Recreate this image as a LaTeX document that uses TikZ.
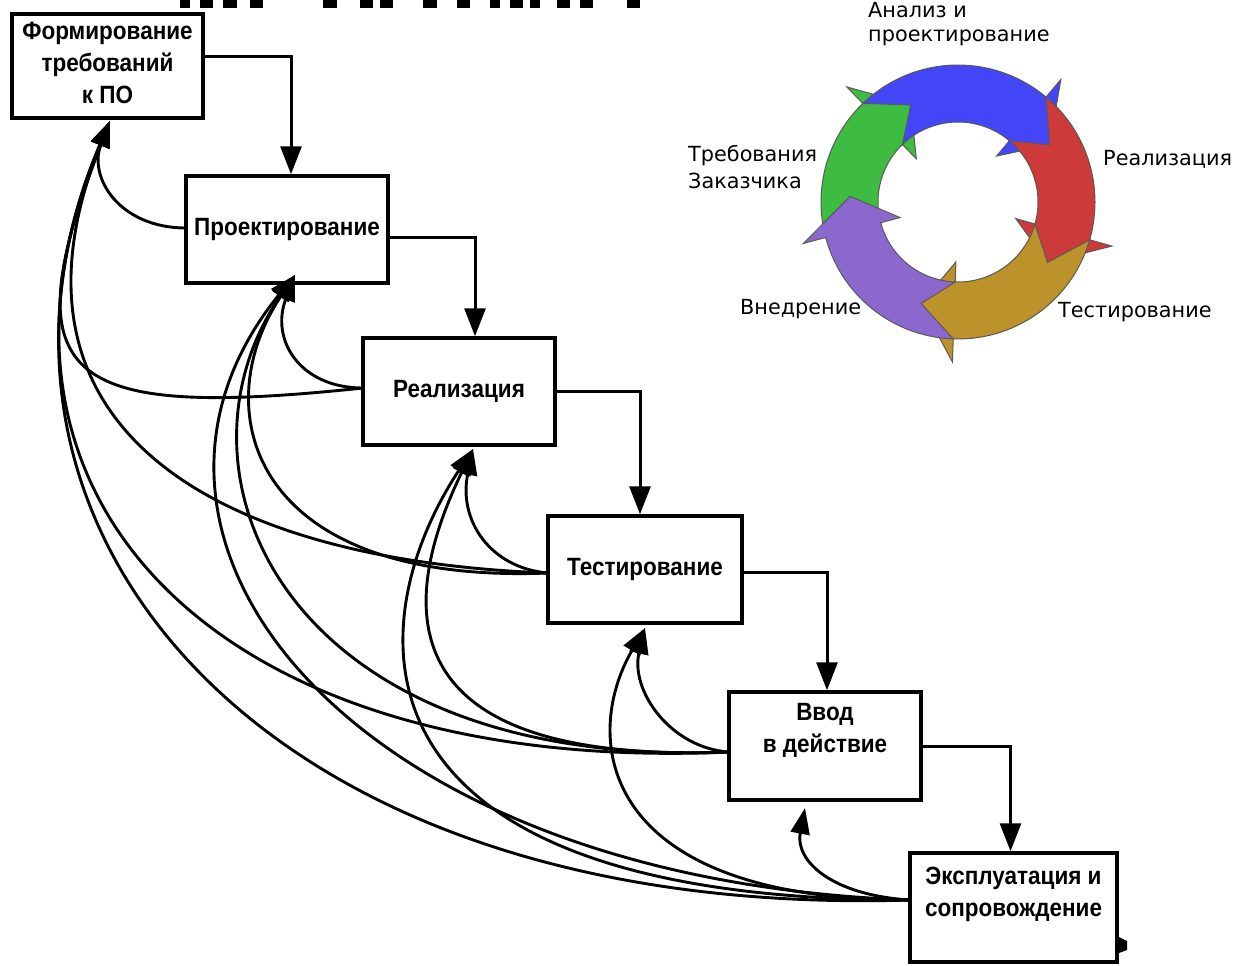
\documentclass[tikz,border=0pt]{standalone}
\usepackage{fontspec}
\usetikzlibrary{arrows.meta,calc}
\newfontfamily\boxfont[FakeStretch=0.9]{Liberation Sans}
\newfontfamily\cyclefont{DejaVu Sans}
\definecolor{cblue}{RGB}{66,70,246}
\definecolor{cred}{RGB}{204,58,58}
\definecolor{cgold}{RGB}{188,146,42}
\definecolor{cpurple}{RGB}{140,104,206}
\definecolor{cgreen}{RGB}{62,188,66}
\tikzset{
  box/.style={draw, fill=white, line width=3.5pt, inner sep=0pt},
  boxtext/.style={font=\boxfont\bfseries\fontsize{25}{32}\selectfont, align=center, inner sep=0pt},
  stepline/.style={line width=3pt, -{Triangle[width=21pt,length=28pt]}},
  fb/.style={line width=2.9pt, -{Triangle[width=19pt,length=26pt]}},
  seg/.style={draw=black!65, line width=1pt},
  cyc/.style={font=\cyclefont\fontsize{20.8}{24}\selectfont, anchor=base west, inner sep=0pt},
}
\begin{document}
\begin{tikzpicture}[x=1pt,y=-1pt]
\useasboundingbox (0,0) rectangle (1239,966);
\fill[white] (0,0) rectangle (1239,966);

% cut-off title marks at the top edge
\foreach \xa/\xb in {180/190,200/213,223/237,250/263,323/337,360/373,380/393,423/437,457/470,490/500,510/523,530/540,557/570,580/593,627/640}
  \fill (\xa,0) rectangle (\xb,8);

% boxes
\node[box, minimum width=191pt, minimum height=104pt] (b1) at (107.5,66) {};
\node[boxtext] (b1t) at (107.5,63) {Формирование\\требований\\к ПО};
\node[box, boxtext, minimum width=202pt, minimum height=107pt] (b2) at (287,229.5) {Проектирование};
\node[box, boxtext, minimum width=192pt, minimum height=107pt] (b3) at (459,391.5) {Реализация};
\node[box, boxtext, minimum width=194pt, minimum height=107pt] (b4) at (645,569.5) {Тестирование};
\node[box, minimum width=192pt, minimum height=108pt] (b5) at (825,746) {};
\node[boxtext] (b5t) at (825,730) {Ввод\\в действие};
\node[box, minimum width=207pt, minimum height=109pt] (b6) at (1013.5,907.5) {};
\node[boxtext] (b6t) at (1013.5,894) {Эксплуатация и\\сопровождение};

% step arrows
\draw[stepline] ([yshift=9pt]b1.east) -| ([xshift=4pt]b2.north);
\draw[stepline] ([yshift=-7.5pt]b2.east) -| ([xshift=16pt]b3.north);
\draw[stepline] (b3.east) -| ([xshift=-5pt]b4.north);
\draw[stepline] ([yshift=-2.5pt]b4.east) -| ([xshift=2pt]b5.north);
\draw[stepline] (b5.east) -| ([xshift=-3pt]b6.north);

% feedback sources and targets
\coordinate (s2) at (186,228);
\coordinate (s3) at (363,388);
\coordinate (s4) at (548,573);
\coordinate (s5) at (729,752);
\coordinate (s6) at (910,900);
\coordinate (t1) at (110,121);
\coordinate (t2) at (295,275);
\coordinate (t3) at (473,449);
\coordinate (t4) at (645,628);
\coordinate (t5) at (805,808);

\draw[fb] (s2) .. controls (120,228) and (88,178) .. (t1);
\draw[fb] (s3) .. controls (300,388) and (270,340) .. (t2);
\draw[fb] (s3) .. controls (60,420) and (10,380) .. (t1);
\draw[fb] (s4) .. controls (490,568) and (458,520) .. (t3);
\draw[fb] (s4) .. controls (250,585) and (205,410) .. (t2);
\draw[fb] (s4) .. controls (200,560) and (-10,420) .. (t1);
\draw[fb] (s5) .. controls (670,748) and (630,690) .. (t4);
\draw[fb] (s5) .. controls (380,765) and (400,600) .. (t3);
\draw[fb] (s5) .. controls (280,770) and (160,470) .. (t2);
\draw[fb] (s5) .. controls (220,775) and (-50,500) .. (t1);
\draw[fb] (s6) .. controls (830,895) and (795,860) .. (t5);
\draw[fb] (s6) .. controls (600,900) and (580,740) .. (t4);
\draw[fb] (s6) .. controls (330,900) and (360,620) .. (t3);
\draw[fb] (s6) .. controls (350,880) and (80,540) .. (t2);
\draw[fb] (s6) .. controls (250,920) and (-60,520) .. (t1);

% small mark at the right of the last box
\fill (1119,937) -- (1127,941) -- (1127,950) -- (1119,953) -- cycle;

% cycle diagram
\begin{scope}[shift={(958,202)}]
\foreach \sa/\sb/\col in {165/226/cgreen, 226/310/cblue, 310/376/cred, 376/452/cgold, 452/525/cpurple}{
  \filldraw[seg, fill=\col] plot[domain=\sa:\sb, samples=30] (\x:137) -- ({\sb}:160) -- ({\sb+18}:108) -- ({\sb}:60) -- ({\sb}:80)
     -- plot[domain=\sb:\sa, samples=30] (\x:80) -- ({\sa+18}:108) -- cycle;
}
\end{scope}
\node[cyc] (lA1) at (868,18) {Анализ и};
\node[cyc] (lA2) at (868,42) {проектирование};
\node[cyc] (lT1) at (688,161) {Требования};
\node[cyc] (lT2) at (688,188) {Заказчика};
\node[cyc] (lR) at (1103,165) {Реализация};
\node[cyc] (lV) at (740,314) {Внедрение};
\node[cyc] (lTe) at (1058,317) {Тестирование};
\end{tikzpicture}
\end{document}
